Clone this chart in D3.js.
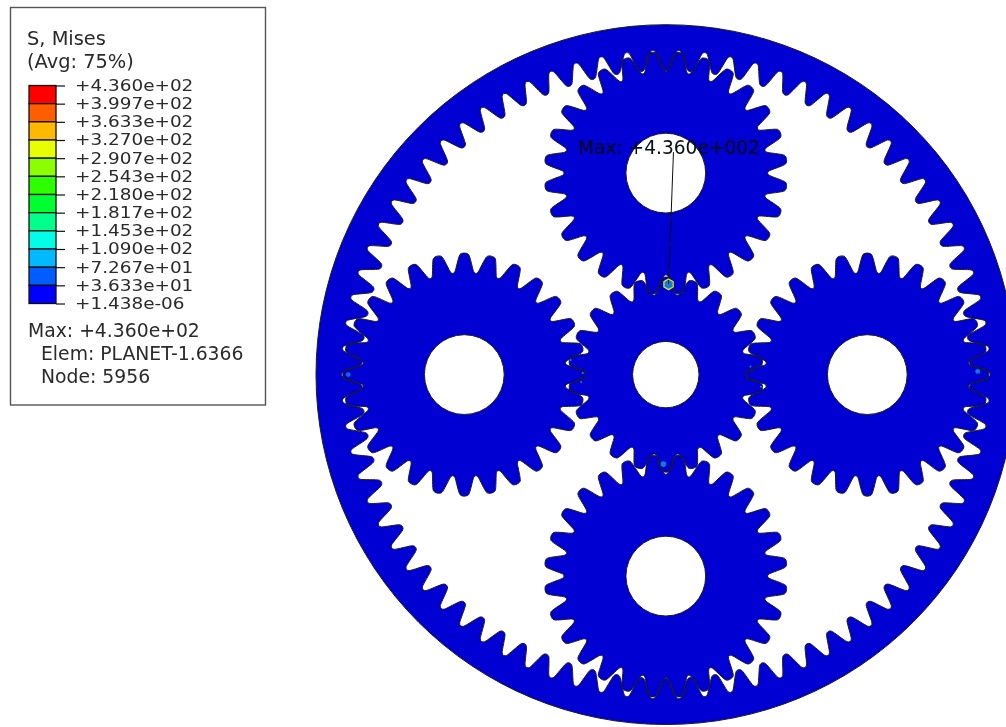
<!DOCTYPE html>
<html lang="en">
<head>
<meta charset="utf-8">
<title>S, Mises</title>
<script src="https://d3js.org/d3.v7.min.js"></script>
<style>
  html, body { margin: 0; background: #fff; }
  svg { display: block; }
  text { font-family: "DejaVu Sans", sans-serif; fill: #2a2a2a; }
</style>
</head>
<body>
<div id="chart"></div>
<script>
var legendLabels = ["+4.360e+02", "+3.997e+02", "+3.633e+02", "+3.270e+02", "+2.907e+02", "+2.543e+02",
  "+2.180e+02", "+1.817e+02", "+1.453e+02", "+1.090e+02", "+7.267e+01", "+3.633e+01", "+1.438e-06"];
var legendColors = ["#ff0000", "#ff5d00", "#ffb900", "#e7ff00", "#8bff00", "#2eff00",
  "#00ff2e", "#00ff8b", "#00ffe7", "#00b9ff", "#005dff", "#0000ff"];
var legendTitle = ["S, Mises", "(Avg: 75%)"];
var legendFooter = ["Max: +4.360e+02", "Elem: PLANET-1.6366", "Node: 5956"];
var footerIndent = [28, 41, 41];
var maxLabel = "Max: +4.360e+002";

// gear model, in units of one module
var sunTeeth = 22, planetTeeth = 28, ringTeeth = 78;
var planetAngles = [0, 90, 180, 270];          // clockwise from top
var planetPhase = [0.5, 0, 0.5, 0];            // fraction of a tooth pitch
var sunHole = 4.12, planetHole = 4.95, ringOuter = 43.4;
// add/ded are radial, widths are half widths at root and tip, as part of a tooth pitch
var sunProfile = { add: 0.95, ded: 0.9, widths: [0.41, 0.16] };
var planetProfile = { add: 0.9, ded: 1.2, widths: [0.41, 0.16] };
var ringProfile = { add: 1.05, ded: 1.1, widths: [0.38, 0.1] };
// small contact patches: [x, y, radius, colour] in model units
var hotspots = [[-39.4, 0, 0.3, "#0a6adf"], [38.7, -0.4, 0.3, "#0a7adf"], [-0.3, 11.1, 0.35, "#0a7adf"],
  [-11.8, -1.8, 0.12, "#0a90df"], [-10.3, -0.2, 0.12, "#0a90df"], [-10.5, 0.9, 0.12, "#0a90df"],
  [10.5, -1, 0.12, "#0a90df"], [11.8, 1.5, 0.12, "#0a90df"], [0.3, -11.2, 0.6, "#0a80df"]];

var width = 1006, height = 727;
var x = d3.scaleLinear().domain([-1, 1]).range([665.8 - 8.06, 665.8 + 8.06]);
var y = d3.scaleLinear().domain([-1, 1]).range([374.6 - 8.06, 374.6 + 8.06]);
var unit = d3.scaleLinear().domain([0, 1]).range([0, 8.06]);

var svg = d3.select("#chart").append("svg")
  .attr("width", width).attr("height", height);

svg.append("filter").attr("id", "soft")
  .append("feGaussianBlur").attr("stdDeviation", 0.55);

// closed toothed outline as a radial line
function toothPath(n, profile, phase) {
  var pitch = n / 2, step = 2 * Math.PI / n, pts = [], w = profile.widths;
  var rTip = unit(pitch + profile.add), rRoot = unit(pitch - profile.ded);
  d3.range(n).forEach(function(i) {
    var t = (i + phase) * step;
    pts.push([t - w[0] * step, rRoot], [t - w[1] * step, rTip],
             [t + w[1] * step, rTip], [t + w[0] * step, rRoot]);
  });
  return d3.lineRadial().curve(d3.curveCardinalClosed.tension(0.3))(pts);
}
function ring(r) {
  var p = d3.path();
  p.moveTo(r, 0);
  p.arc(0, 0, r, 0, 2 * Math.PI);
  p.closePath();
  return p.toString();
}

var gears = [];
gears.push({ cx: 0, cy: 0, d: ring(unit(ringOuter)) + toothPath(ringTeeth, ringProfile, 0.5) });
gears.push({ cx: 0, cy: 0, d: toothPath(sunTeeth, sunProfile, 0) + ring(unit(sunHole)) });
planetAngles.forEach(function(a, i) {
  var dist = (sunTeeth + planetTeeth) / 2, rad = a * Math.PI / 180;
  gears.push({
    cx: dist * Math.sin(rad), cy: -dist * Math.cos(rad),
    d: toothPath(planetTeeth, planetProfile, planetPhase[i]) + ring(unit(planetHole))
  });
});

var model = svg.append("g").attr("filter", "url(#soft)");
function gearLayer() {
  return model.append("g").selectAll("path").data(gears).enter().append("path")
    .attr("transform", function(d) { return "translate(" + x(d.cx) + "," + y(d.cy) + ")"; })
    .attr("d", function(d) { return d.d; })
    .attr("fill-rule", "evenodd");
}
gearLayer().attr("fill", "#0000d2");
gearLayer().attr("fill", "none").attr("stroke", "#1c1c22").attr("stroke-width", 1);

model.selectAll(".hot").data(hotspots).enter().append("circle")
  .attr("class", "hot")
  .attr("cx", function(d) { return x(d[0]); })
  .attr("cy", function(d) { return y(d[1]); })
  .attr("r", function(d) { return unit(d[2]); })
  .attr("fill", function(d) { return d[3]; });

// max marker and its leader
var maxAt = [0.34, -11.2], labelAt = [0.95, -27.6];
model.append("line")
  .attr("x1", x(labelAt[0])).attr("y1", y(labelAt[1]))
  .attr("x2", x(maxAt[0])).attr("y2", y(maxAt[1]))
  .attr("stroke", "#111").attr("stroke-width", 1);
model.append("path")
  .attr("transform", "translate(" + x(maxAt[0]) + "," + y(maxAt[1]) + ")")
  .attr("d", d3.lineRadial().curve(d3.curveLinearClosed)(d3.range(6).map(function(i) { return [i * Math.PI / 3, unit(0.66)]; })))
  .attr("fill", "none").attr("stroke", "#e6e600").attr("stroke-width", 1.3);
svg.append("text")
  .attr("x", 578).attr("y", 154)
  .attr("font-size", 18.6).attr("filter", "url(#soft)")
  .style("fill", "#0a0a14")
  .text(maxLabel);

// legend
var legend = svg.append("g").attr("filter", "url(#soft)");
legend.append("rect")
  .attr("x", 10.5).attr("y", 7.5).attr("width", 255).attr("height", 397.5)
  .attr("fill", "#fff").attr("stroke", "#555").attr("stroke-width", 1.4);

var ly = d3.scalePoint().domain(legendLabels).range([85.5, 303.5]);
var cell = d3.scaleBand().domain(legendColors).range([85.5, 303.5]);

legend.selectAll(".cell").data(legendColors).enter().append("rect")
  .attr("class", "cell")
  .attr("x", 29).attr("width", 27)
  .attr("y", function(d) { return cell(d); })
  .attr("height", cell.bandwidth())
  .attr("fill", function(d) { return d; })
  .attr("stroke", "#111").attr("stroke-width", 1.3);

var axis = legend.append("g")
  .attr("transform", "translate(56,0)")
  .call(d3.axisRight(ly).tickSize(9).tickPadding(10));
axis.select(".domain").remove();
axis.selectAll("line").attr("stroke", "#111").attr("stroke-width", 1.2);
// row pitch is tighter than the font's line box, so smaller type stretched to the reference width
axis.selectAll("text")
  .attr("font-size", 15.5).attr("font-family", null)
  .attr("lengthAdjust", "spacingAndGlyphs")
  .attr("textLength", function() { return this.getComputedTextLength() * 1.188; });

legend.selectAll(".title").data(legendTitle).enter().append("text")
  .attr("class", "title")
  .attr("x", 27).attr("y", function(d, i) { return 45 + i * 23; })
  .attr("font-size", 19.4)
  .text(function(d) { return d; });

legend.selectAll(".foot").data(legendFooter).enter().append("text")
  .attr("class", "foot")
  .attr("x", function(d, i) { return footerIndent[i]; })
  .attr("y", function(d, i) { return 337 + i * 23; })
  .attr("font-size", 18.8)
  .text(function(d) { return d; });
</script>
</body>
</html>
